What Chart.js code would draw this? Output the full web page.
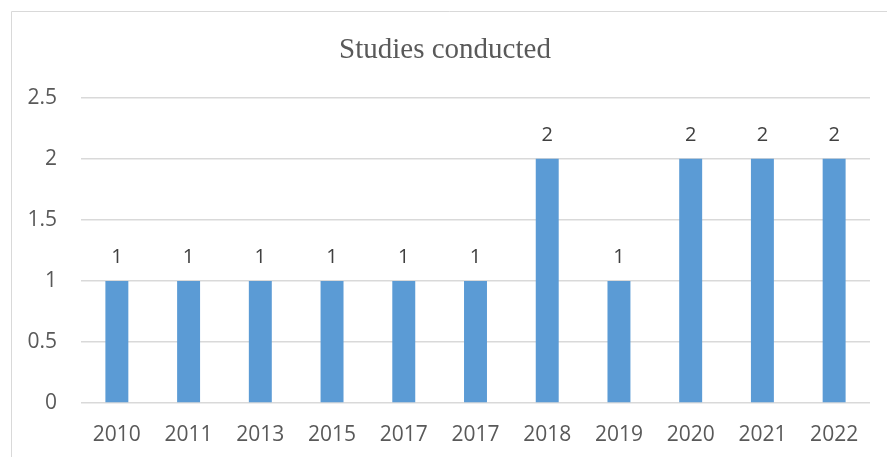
<!DOCTYPE html>
<html>
<head>
<meta charset="utf-8">
<script src="https://cdn.jsdelivr.net/npm/chart.js@4/dist/chart.umd.min.js"></script>
<style>
html,body{margin:0;padding:0;background:#fff;}
#wrap{width:887px;height:457px;position:relative;}
</style>
</head>
<body>
<div id="wrap"><canvas id="c" width="887" height="457"></canvas></div>
<script>
const categories = ["2010","2011","2013","2015","2017","2017","2018","2019","2020","2021","2022"];
const studies = [1,1,1,1,1,1,2,1,2,2,2];
const yTicks = [0,0.5,1,1.5,2,2.5];
const titleText = "Studies conducted";

const framePlugin = {
  id: 'frame',
  beforeDraw(chart) {
    const ctx = chart.ctx;
    ctx.save();
    ctx.strokeStyle = '#d9d9d9';
    ctx.lineWidth = 1;
    ctx.beginPath();
    ctx.moveTo(11.5, 457);
    ctx.lineTo(11.5, 11.5);
    ctx.lineTo(887, 11.5);
    ctx.stroke();
    ctx.restore();
  }
};

const labelPlugin = {
  id: 'barLabels',
  afterDatasetsDraw(chart) {
    const ctx = chart.ctx;
    const meta = chart.getDatasetMeta(0);
    ctx.save();
    ctx.font = '20px "Open Sans", sans-serif';
    ctx.fillStyle = '#404040';
    ctx.textAlign = 'center';
    ctx.textBaseline = 'bottom';
    meta.data.forEach((bar, i) => {
      ctx.fillText(String(chart.data.datasets[0].data[i]), bar.x, bar.y - 14);
    });
    ctx.restore();
  }
};

new Chart(document.getElementById('c'), {
  type: 'bar',
  data: {
    labels: categories,
    datasets: [{
      data: studies,
      backgroundColor: '#5B9BD5',
      borderWidth: 0,
      barPercentage: 0.32,
      categoryPercentage: 1.0
    }]
  },
  options: {
    responsive: false,
    animation: false,
    devicePixelRatio: 1,
    layout: { padding: { left: 20, right: 17, top: 0, bottom: 0 } },
    plugins: {
      legend: { display: false },
      tooltip: { enabled: false },
      title: {
        display: true,
        text: titleText,
        color: '#595959',
        font: { family: '"Liberation Serif", "Times New Roman", serif', size: 29, weight: 'normal' },
        padding: { top: 33, bottom: 30 }
      }
    },
    scales: {
      x: {
        grid: { display: false, drawTicks: false },
        border: { display: false },
        ticks: { color: '#595959', font: { family: '"Open Sans", sans-serif', size: 21 }, padding: 19, maxRotation: 0, autoSkip: false },
        afterFit(s) { s.height = 54; }
      },
      y: {
        min: 0, max: 2.5,
        afterBuildTicks(s) { s.ticks = yTicks.map(v => ({ value: v })); },
        grid: { color: '#d9d9d9', lineWidth: 1.5, drawTicks: false },
        border: { display: false },
        ticks: { color: '#595959', font: { family: '"Open Sans", sans-serif', size: 21 }, padding: 24, callback: v => String(v) },
        afterFit(s) { s.width = 61; }
      }
    }
  },
  plugins: [framePlugin, labelPlugin]
});
</script>
</body>
</html>
